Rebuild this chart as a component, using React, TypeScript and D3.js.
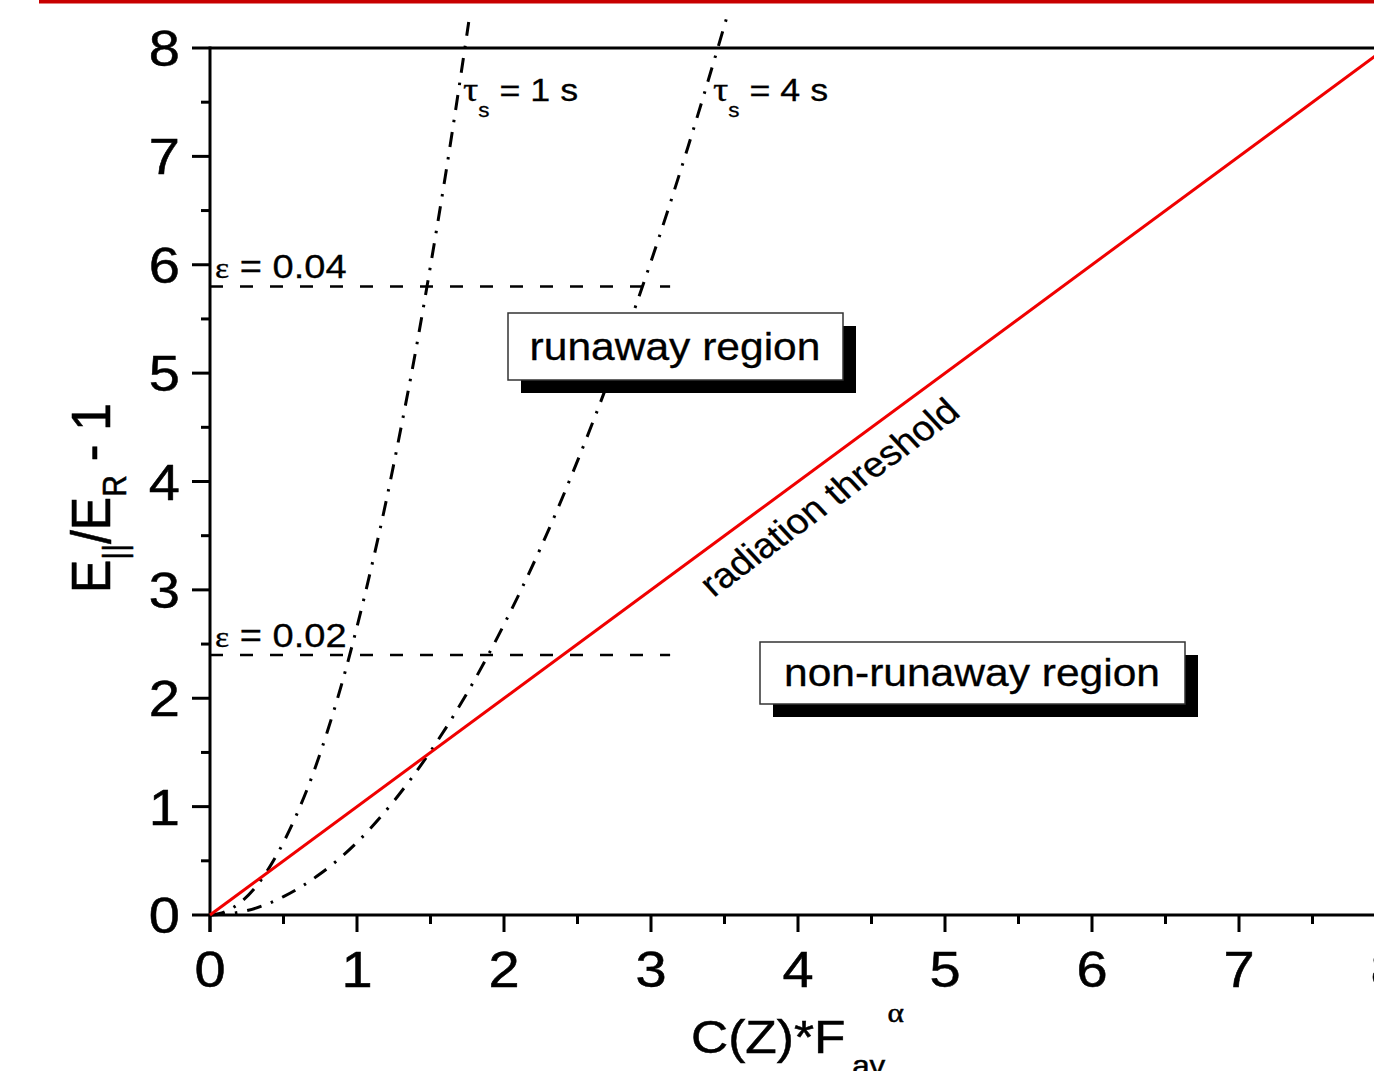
import React from "react";
import * as d3 from "d3";

// ---- data ----
const xMajorTicks = [0, 1, 2, 3, 4, 5, 6, 7, 8];
const yMajorTicks = [0, 1, 2, 3, 4, 5, 6, 7, 8];
const xMinorTicks = [0.5, 1.5, 2.5, 3.5, 4.5, 5.5, 6.5, 7.5];
const yMinorTicks = [0.5, 1.5, 2.5, 3.5, 4.5, 5.5, 6.5, 7.5];

const tau1X = [0, 0.1, 0.2, 0.3, 0.4, 0.5, 0.6, 0.7, 0.8, 0.9, 1.0, 1.1, 1.2, 1.3, 1.4, 1.5, 1.6, 1.7, 1.76];
const tau1Y = [0, 0.03, 0.11, 0.24, 0.43, 0.67, 0.96, 1.3, 1.7, 2.15, 2.66, 3.22, 3.83, 4.5, 5.21, 5.99, 6.81, 7.69, 8.24];
const tau4X = [0, 0.25, 0.5, 0.75, 1.0, 1.25, 1.5, 1.75, 2.0, 2.25, 2.5, 2.75, 3.0, 3.25, 3.5, 3.53];
const tau4Y = [0, 0.04, 0.17, 0.38, 0.67, 1.05, 1.51, 2.05, 2.68, 3.39, 4.19, 5.07, 6.03, 7.08, 8.21, 8.35];

const thresholdX = [0, 8];
const thresholdY = [0, 8];

const epsLevels = [5.8, 2.4];
const epsLabels = ["0.04", "0.02"];
const epsX = [0, 3.13];

const W = 1374;
const H = 1071;
const SX = 1.12; // horizontal glyph stretch of the original
const SANS = "'Liberation Sans', Arial, sans-serif";
const SERIF = "'Liberation Serif', 'Times New Roman', serif";

export default function App() {
  const x = d3.scaleLinear().domain([0, 8]).range([210, 1386]);
  const y = d3.scaleLinear().domain([0, 8]).range([915, 48]);

  const line = d3
    .line<[number, number]>()
    .x((d) => x(d[0]))
    .y((d) => y(d[1]))
    .curve(d3.curveMonotoneX);

  const tau1 = line(tau1X.map((v, i) => [v, tau1Y[i]]))!;
  const tau4 = line(tau4X.map((v, i) => [v, tau4Y[i]]))!;
  const thr = d3
    .line<[number, number]>()
    .x((d) => x(d[0]))
    .y((d) => y(d[1]))(thresholdX.map((v, i) => [v, thresholdY[i]]))!;

  const x0 = x(0);
  const y0 = y(0);
  const yTop = y(8);

  const pxSlope = (y(0) - y(1)) / (x(1) - x(0));
  const preAngle = (Math.atan(pxSlope * SX) * 180) / Math.PI;

  const boxes = [
    { text: "runaway region", x: 508, y: 313, w: 335, h: 67, tx: 675, ty: 360 },
    { text: "non-runaway region", x: 760, y: 642, w: 425, h: 62, tx: 972, ty: 686 },
  ];

  const ts = { stroke: "#000", strokeWidth: 0.5 };

  return (
    <div style={{ position: "absolute", left: 0, top: 0, width: W, height: H, overflow: "hidden", background: "#fff" }}>
      <svg width={W} height={H} style={{ display: "block" }} fontFamily={SANS}>
        <rect x={0} y={0} width={W} height={H} fill="#fff" />
        {/* top red band */}
        <rect x={39} y={0} width={W - 39} height={3.5} fill="#c80000" />

        {/* axes */}
        <line x1={x0} x2={W} y1={y0} y2={y0} stroke="#000" strokeWidth={3} />
        <line x1={x0} x2={W} y1={yTop} y2={yTop} stroke="#000" strokeWidth={3} />
        <line x1={x0} x2={x0} y1={yTop - 1.5} y2={y0 + 17} stroke="#000" strokeWidth={3} />

        {xMajorTicks.map((t) => (
          <line key={"xm" + t} x1={x(t)} x2={x(t)} y1={y0} y2={y0 + 17} stroke="#000" strokeWidth={3} />
        ))}
        {xMinorTicks.map((t) => (
          <line key={"xn" + t} x1={x(t)} x2={x(t)} y1={y0} y2={y0 + 9} stroke="#000" strokeWidth={3} />
        ))}
        {yMajorTicks.map((t) => (
          <line key={"ym" + t} x1={x0 - 18} x2={x0} y1={y(t)} y2={y(t)} stroke="#000" strokeWidth={3} />
        ))}
        {yMinorTicks.map((t) => (
          <line key={"yn" + t} x1={x0 - 9} x2={x0} y1={y(t)} y2={y(t)} stroke="#000" strokeWidth={3} />
        ))}

        {xMajorTicks.map((t) => (
          <text key={"xl" + t} transform={`translate(${x(t)},987) scale(${SX},1)`} textAnchor="middle" fontSize={50} {...ts}>
            {t}
          </text>
        ))}
        {yMajorTicks.map((t) => (
          <text key={"yl" + t} transform={`translate(180,${y(t) + 18}) scale(${SX},1)`} textAnchor="end" fontSize={50} {...ts}>
            {t}
          </text>
        ))}

        {/* axis titles */}
        <text transform={`translate(691,1053) scale(${SX},1)`} fontSize={46} {...ts}>
          C(Z)*F
          <tspan fontSize={28} dx={6} dy={22}>av</tspan>
          <tspan fontSize={28} fontFamily={SERIF} dx={2} dy={-53}>α</tspan>
        </text>
        <text transform={`translate(110,593) scale(${SX},1) rotate(-90)`} fontSize={50} {...ts}>
          E
          <tspan fontSize={30} dy={14}>||</tspan>
          <tspan dy={-14}>/E</tspan>
          <tspan fontSize={30} dy={14}>R</tspan>
          <tspan dy={-14}> - 1</tspan>
        </text>

        {/* epsilon dashed lines */}
        {epsLevels.map((v, i) => (
          <g key={"eps" + i}>
            <line x1={x(epsX[0])} x2={x(epsX[1])} y1={y(v)} y2={y(v)} stroke="#000" strokeWidth={2.5} strokeDasharray="13,17" />
            <text transform={`translate(215,${y(v) - 8}) scale(${SX},1)`} fontSize={34} {...ts} strokeWidth={0.3}>
              <tspan fontFamily={SERIF} fontSize={30}>ε</tspan> = {epsLabels[i]}
            </text>
          </g>
        ))}

        {/* tau curves */}
        <path d={tau1} fill="none" stroke="#000" strokeWidth={3} strokeDasharray="15,10,2.5,10" />
        <path d={tau4} fill="none" stroke="#000" strokeWidth={3} strokeDasharray="15,10,2.5,10" />

        {/* radiation threshold */}
        <path d={thr} fill="none" stroke="#f00000" strokeWidth={3} />

        <text transform={`translate(463,101) scale(${SX},1)`} fontSize={32} {...ts} strokeWidth={0.3}>
          <tspan fontFamily={SERIF} fontSize={34}>τ</tspan>
          <tspan fontSize={20} dy={16}>s</tspan>
          <tspan dy={-16}> = 1 s</tspan>
        </text>
        <text transform={`translate(713,101) scale(${SX},1)`} fontSize={32} {...ts} strokeWidth={0.3}>
          <tspan fontFamily={SERIF} fontSize={34}>τ</tspan>
          <tspan fontSize={20} dy={16}>s</tspan>
          <tspan dy={-16}> = 4 s</tspan>
        </text>

        <text
          transform={`translate(829,497) scale(${SX},1) rotate(${-preAngle})`}
          textAnchor="middle"
          dominantBaseline="central"
          fontSize={35}
          {...ts}
          strokeWidth={0.3}
        >
          radiation threshold
        </text>

        {boxes.map((b) => (
          <g key={b.text}>
            <rect x={b.x + 13} y={b.y + 13} width={b.w} height={b.h} fill="#000" />
            <rect x={b.x} y={b.y} width={b.w} height={b.h} fill="#fff" stroke="#333" strokeWidth={1.5} />
            <text transform={`translate(${b.tx},${b.ty}) scale(${SX},1)`} textAnchor="middle" fontSize={38} {...ts} strokeWidth={0.3}>
              {b.text}
            </text>
          </g>
        ))}
      </svg>
    </div>
  );
}
